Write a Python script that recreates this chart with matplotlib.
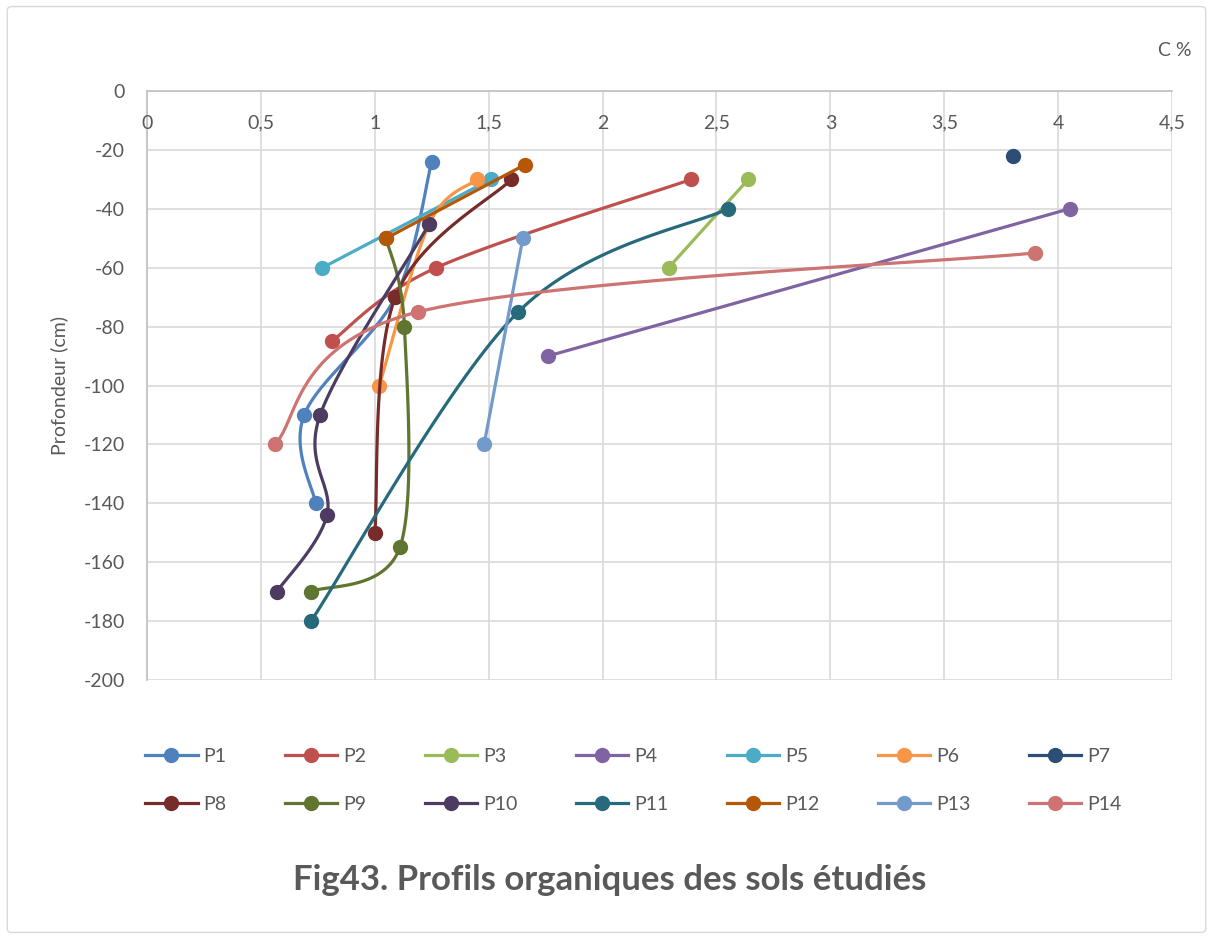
import numpy as np
import matplotlib
matplotlib.use("Agg")
import matplotlib.pyplot as plt
from matplotlib.patches import FancyBboxPatch

plt.rcParams['font.family'] = ['Lato', 'DejaVu Sans']
plt.rcParams['axes.unicode_minus'] = False

# Carbon content (C %) and depth (cm) for each soil profile
names = ['P1', 'P2', 'P3', 'P4', 'P5', 'P6', 'P7',
         'P8', 'P9', 'P10', 'P11', 'P12', 'P13', 'P14']
carbon = [
    [1.25, 1.09, 0.69, 0.74],
    [2.39, 1.27, 0.81],
    [2.64, 2.29],
    [4.05, 1.76],
    [1.51, 0.77],
    [1.45, 1.24, 1.02],
    [3.80],
    [1.60, 1.09, 1.00],
    [1.05, 1.13, 1.11, 0.72],
    [1.24, 0.76, 0.79, 0.57],
    [2.55, 1.63, 0.72],
    [1.66, 1.05],
    [1.65, 1.48],
    [3.90, 1.19, 0.56],
]
depth = [
    [-24, -70, -110, -140],
    [-30, -60, -85],
    [-30, -60],
    [-40, -90],
    [-30, -60],
    [-30, -45, -100],
    [-22],
    [-30, -70, -150],
    [-50, -80, -155, -170],
    [-45, -110, -144, -170],
    [-40, -75, -180],
    [-25, -50],
    [-50, -120],
    [-55, -75, -120],
]
colors = ['#4F81BD', '#C0504D', '#9BBB59', '#8064A2', '#4BACC6', '#F79646', '#2C4D75',
          '#772C2A', '#5F7530', '#4D3B62', '#276A7C', '#B65708', '#729ACA', '#CD7371']

x_ticks = [0, 0.5, 1, 1.5, 2, 2.5, 3, 3.5, 4, 4.5]
x_labels = ['0', '0,5', '1', '1,5', '2', '2,5', '3', '3,5', '4', '4,5']
y_ticks = list(range(0, -201, -20))


def smooth(xs, ys, sx=227.8, sy=2.945, n=40):
    # Bezier smoothing like spreadsheet "smoothed lines", done in screen-like units
    p = np.column_stack([np.array(xs) * sx, np.array(ys) * sy])
    if len(p) < 3:
        return np.array(xs), np.array(ys)
    pts = np.vstack([p[0], p, p[-1]])
    out = []
    t = np.linspace(0, 1, n)[:, None]
    for i in range(1, len(pts) - 2):
        p0, p1, p2, p3 = pts[i - 1], pts[i], pts[i + 1], pts[i + 2]
        c1 = p1 + (p2 - p0) / 6
        c2 = p2 - (p3 - p1) / 6
        seg = ((1 - t) ** 3) * p1 + 3 * ((1 - t) ** 2) * t * c1 + 3 * (1 - t) * t ** 2 * c2 + t ** 3 * p2
        out.append(seg if i == 1 else seg[1:])
    out = np.vstack(out)
    return out[:, 0] / sx, out[:, 1] / sy


fig = plt.figure(figsize=(12.13, 9.39), dpi=100)
fig.patches.append(FancyBboxPatch((0.006, 0.007), 0.988, 0.986, boxstyle='round,pad=0,rounding_size=0.004',
                                  transform=fig.transFigure, fill=False, edgecolor='#D9D9D9', linewidth=1))
ax = fig.add_axes([0.1212, 0.2758, 0.845, 0.6273])

handles = []
for k, (name, xs, ys, c) in enumerate(zip(names, carbon, depth, colors)):
    lx, ly = smooth(xs, ys)
    ax.plot(lx, ly, color=c, linewidth=2.3, solid_capstyle='round', zorder=3 + 0.01 * k)
    ax.plot(xs, ys, 'o', color=c, markersize=10, zorder=3.005 + 0.01 * k)
    h, = ax.plot([], [], '-o', color=c, linewidth=2.3, markersize=10, label=name)
    handles.append(h)

ax.set_xlim(0, 4.5)
ax.set_ylim(-200, 0)
ax.set_xticks(x_ticks)
ax.set_yticks(y_ticks)
ax.grid(True, color='#D9D9D9', linewidth=1.2)
ax.set_axisbelow(True)
for s in ['right', 'bottom']:
    ax.spines[s].set_visible(False)
ax.spines['left'].set_color('#BFBFBF')
ax.spines['top'].set_color('#BFBFBF')
ax.spines['left'].set_linewidth(1.2)
ax.spines['top'].set_linewidth(1.2)

ax.tick_params(axis='y', length=0, labelsize=14, labelcolor='#595959', pad=16)
ax.tick_params(axis='x', length=0, labelbottom=False)
for xv, lab in zip(x_ticks, x_labels):
    ax.annotate(lab, (xv, 0), xytext=(0, -17), textcoords='offset points',
                ha='center', va='top', fontsize=14, color='#595959')

ax.set_ylabel('Profondeur (cm)', fontsize=14, color='#595959', labelpad=11)
fig.text(0.982, 0.946, 'C %', ha='right', va='center', fontsize=14, color='#595959')

# legend filled row by row: P1..P7 on top, P8..P14 below
order = []
for i in range(7):
    order += [handles[i], handles[i + 7]]
leg = fig.legend(handles=order, loc='center', bbox_to_anchor=(0.522, 0.169), ncol=7, frameon=False,
                 fontsize=14, handlelength=2.7, columnspacing=3.0, labelspacing=1.6,
                 handletextpad=0.3)
for t in leg.get_texts():
    t.set_color('#595959')

fig.text(0.503, 0.063, 'Fig43. Profils organiques des sols étudiés', ha='center', va='center',
         fontsize=25, fontweight='bold', color='#595959')

fig.savefig('out.png', dpi=100)
